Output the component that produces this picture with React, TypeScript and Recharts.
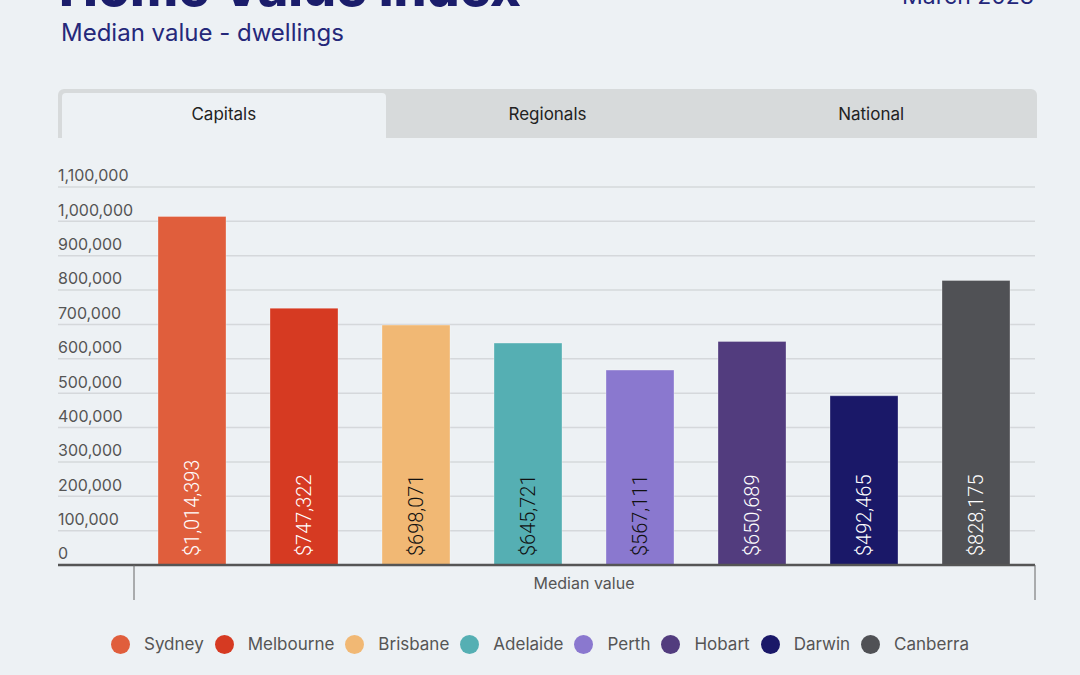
import { BarChart, Bar, XAxis, YAxis, CartesianGrid, Legend, LabelList } from 'recharts'

const cities = ['Sydney', 'Melbourne', 'Brisbane', 'Adelaide', 'Perth', 'Hobart', 'Darwin', 'Canberra']
const medianValues = [1014393, 747322, 698071, 645721, 567111, 650689, 492465, 828175]
const cityColors = ['#e05e3c', '#d63a22', '#f1b874', '#55afb3', '#8a78cf', '#523c7e', '#1a1868', '#505155']
const labelColors = ['#fff', '#fff', '#111', '#111', '#111', '#fff', '#fff', '#fff']
const yTicks = [0, 100000, 200000, 300000, 400000, 500000, 600000, 700000, 800000, 900000, 1000000, 1100000]
const category = 'Median value'
const tabs = ['Capitals', 'Regionals', 'National']

const W = 1080
const H = 675
const LEFT = 58
const RIGHT = 45
const TOP = 187
const BOTTOM_AXIS = 565
const PAD_LEFT = 75
const X_AXIS_H = 40

const row: Record<string, string | number> = { name: category }
cities.forEach((c, i) => { row[c] = medianValues[i] })
const data = [row]

const font = 'Inter, "Open Sans", sans-serif'

const YTick = (p: any) => (
  <text x={LEFT} y={p.y - 10} fill="#555" fontSize={16} fontFamily={font} textAnchor="start" dominantBaseline="middle">
    {Number(p.payload.value).toLocaleString('en-US')}
  </text>
)

const XTick = (p: any) => (
  <g>
    <line x1={LEFT + PAD_LEFT + 1} x2={LEFT + PAD_LEFT + 1} y1={p.y - 8} y2={p.y + 27} stroke="#666" />
    <line x1={W - RIGHT} x2={W - RIGHT} y1={p.y - 8} y2={p.y + 27} stroke="#666" />
    <text x={p.x} y={p.y + 12} fill="#555" fontSize={16} fontFamily={font} textAnchor="middle" dominantBaseline="middle">
      {p.payload.value}
    </text>
  </g>
)

const makeLabel = (color: string) => (p: any) => {
  const cx = p.x + p.width / 2
  const by = p.y + p.height - 9
  return (
    <text
      x={cx}
      y={by}
      transform={`rotate(-90, ${cx}, ${by})`}
      fill={color}
      fontSize={20}
      fontWeight={300}
      fontFamily="Roboto, sans-serif"
      textAnchor="start"
      dominantBaseline="central"
    >
      {'$' + Number(p.value).toLocaleString('en-US')}
    </text>
  )
}

// legend order follows the series order, not the alphabetical sort
const LegendContent = () => (
  <div style={{ display: 'flex', justifyContent: 'center', gap: 11, fontFamily: font }}>
    {cities.map((c, i) => (
      <div key={c} style={{ display: 'flex', alignItems: 'center', gap: 14 }}>
        <span style={{ width: 19, height: 19, borderRadius: '50%', background: cityColors[i], display: 'inline-block' }} />
        <span style={{ fontSize: 17, color: '#555' }}>{c}</span>
      </div>
    ))}
  </div>
)

export default function App() {
  return (
    <div style={{ position: 'relative', width: W, height: H, background: '#edf1f4', overflow: 'hidden' }}>
      <style>{`body{margin:0;background:#edf1f4}`}</style>
      <div style={{ position: 'absolute', left: 59, top: -44, fontFamily: font, fontWeight: 800, fontSize: 52, color: '#1b1d6b', whiteSpace: 'nowrap' }}>
        Home Value Index
      </div>
      <div style={{ position: 'absolute', right: 46, top: -18, fontFamily: font, fontSize: 23, color: '#23267a', whiteSpace: 'nowrap' }}>
        March 2023
      </div>
      <div style={{ position: 'absolute', left: 61, top: 18, fontFamily: font, fontSize: 24, color: '#25287a', whiteSpace: 'nowrap' }}>
        Median value - dwellings
      </div>
      <div style={{ position: 'absolute', left: 58, top: 89, width: 979, height: 49, background: '#d7dadb', borderRadius: '6px 6px 0 0', boxSizing: 'border-box', padding: '4px 4px 0 4px', display: 'flex' }}>
        {tabs.map((t, i) => (
          <div
            key={t}
            style={{
              flex: 1,
              display: 'flex',
              alignItems: 'center',
              justifyContent: 'center',
              paddingBottom: 4,
              fontFamily: font,
              fontSize: 17,
              color: '#222',
              background: i === 0 ? '#edf1f4' : 'transparent',
              borderRadius: '4px 4px 0 0',
            }}
          >
            {t}
          </div>
        ))}
      </div>
      <div style={{ position: 'absolute', left: 0, top: 0 }}>
        <BarChart
          width={W}
          height={H}
          data={data}
          margin={{ top: TOP, right: RIGHT, left: LEFT, bottom: H - BOTTOM_AXIS - X_AXIS_H }}
          barSize={68}
          barGap={44}
        >
          <CartesianGrid vertical={false} stroke="#d5d8db" strokeWidth={1.5} />
          <XAxis
            dataKey="name"
            height={X_AXIS_H}
            padding={{ left: PAD_LEFT, right: 0 }}
            axisLine={{ stroke: '#555', strokeWidth: 2.5 }}
            tickLine={false}
            tick={<XTick />}
            interval={0}
          />
          <YAxis
            domain={[0, 1100000]}
            ticks={yTicks}
            mirror
            axisLine={false}
            tickLine={false}
            tick={<YTick />}
          />
          <Legend
            layout="horizontal"
            verticalAlign="middle"
            align="center"
            wrapperStyle={{ top: 634, left: 0, width: W }}
            content={<LegendContent />}
          />
          {cities.map((c, i) => (
            <Bar key={c} dataKey={c} fill={cityColors[i]} stroke="rgba(255,255,255,0.3)" isAnimationActive={false}>
              <LabelList dataKey={c} content={makeLabel(labelColors[i])} />
            </Bar>
          ))}
        </BarChart>
      </div>
    </div>
  )
}
